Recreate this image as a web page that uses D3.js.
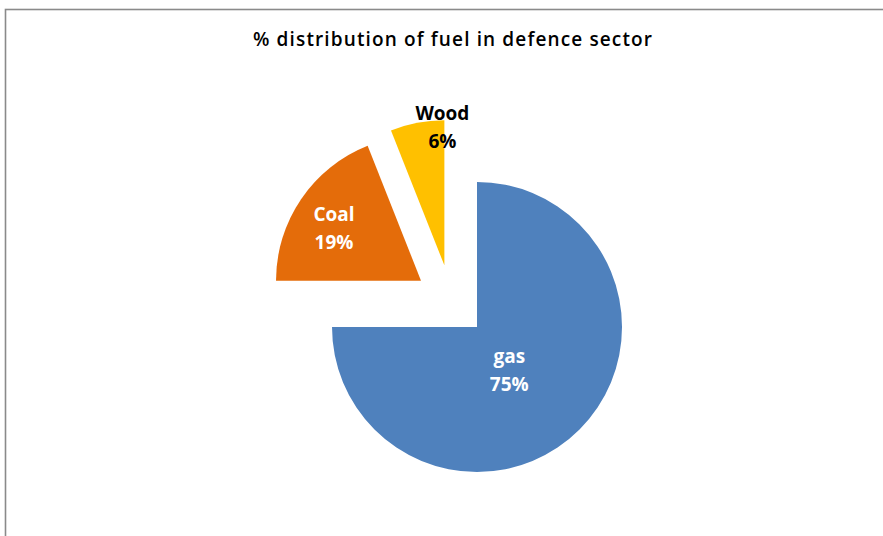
<!DOCTYPE html>
<html><head><meta charset="utf-8">
<script src="https://cdn.jsdelivr.net/npm/d3@7"></script>
<style>html,body{margin:0;padding:0;background:#fff;overflow:hidden}</style>
</head><body>
<svg id="chart" width="883" height="536"></svg>
<script>
const title = "% distribution of fuel in defence sector";
const categories = ["gas", "Coal", "Wood"];
const values = [75, 19, 6];
const percentLabels = ["75%", "19%", "6%"];
const colors = ["#4F81BD", "#E46C0A", "#FFC000"];
const labelColors = ["#ffffff", "#ffffff", "#000000"];
// label placement (fraction of radius, angle in degrees clockwise from top)
const labelRadius = [0.37, 0.70, 0.955];
const labelAngle = [143, 301, 359.2];

const W = 883, H = 536;
const svg = d3.select("#chart");
svg.append("rect").attr("x", 5.5).attr("y", 9.5).attr("width", W + 20).attr("height", H + 20)
  .attr("fill", "#fff").attr("stroke", "#8a8a8a").attr("stroke-width", 1.6);

svg.append("text").attr("x", 452.5).attr("y", 46).attr("text-anchor", "middle")
  .attr("font-family", "'Open Sans', Lato, sans-serif").attr("font-size", 19)
  .attr("font-weight", 600)
  .attr("textLength", 399).attr("lengthAdjust", "spacing")
  .attr("fill", "#000").text(title);

const cx = 451.2, cy = 301.2, r = 145, explode = 36.5;
const pie = d3.pie().sort(null).value(d => d)(values);
const arc = d3.arc().innerRadius(0).outerRadius(r);
const g = svg.append("g").attr("transform", `translate(${cx},${cy})`);

pie.forEach((p, i) => {
  const mid = (p.startAngle + p.endAngle) / 2;
  const ox = Math.sin(mid) * explode, oy = -Math.cos(mid) * explode;
  const sg = g.append("g").attr("transform", `translate(${ox},${oy})`);
  sg.append("path").attr("d", arc(p)).attr("fill", colors[i]);
  const a = labelAngle[i] * Math.PI / 180, lr = labelRadius[i] * r;
  const lx = Math.sin(a) * lr, ly = -Math.cos(a) * lr;
  const t = sg.append("text").attr("text-anchor", "middle")
    .attr("font-family", "'Open Sans', Lato, sans-serif").attr("font-weight", "bold")
    .attr("font-size", 19).attr("fill", labelColors[i]);
  t.append("tspan").attr("x", lx).attr("y", ly - 7).text(categories[i]);
  t.append("tspan").attr("x", lx).attr("y", ly + 21).text(percentLabels[i]);
});
</script>
</body></html>
